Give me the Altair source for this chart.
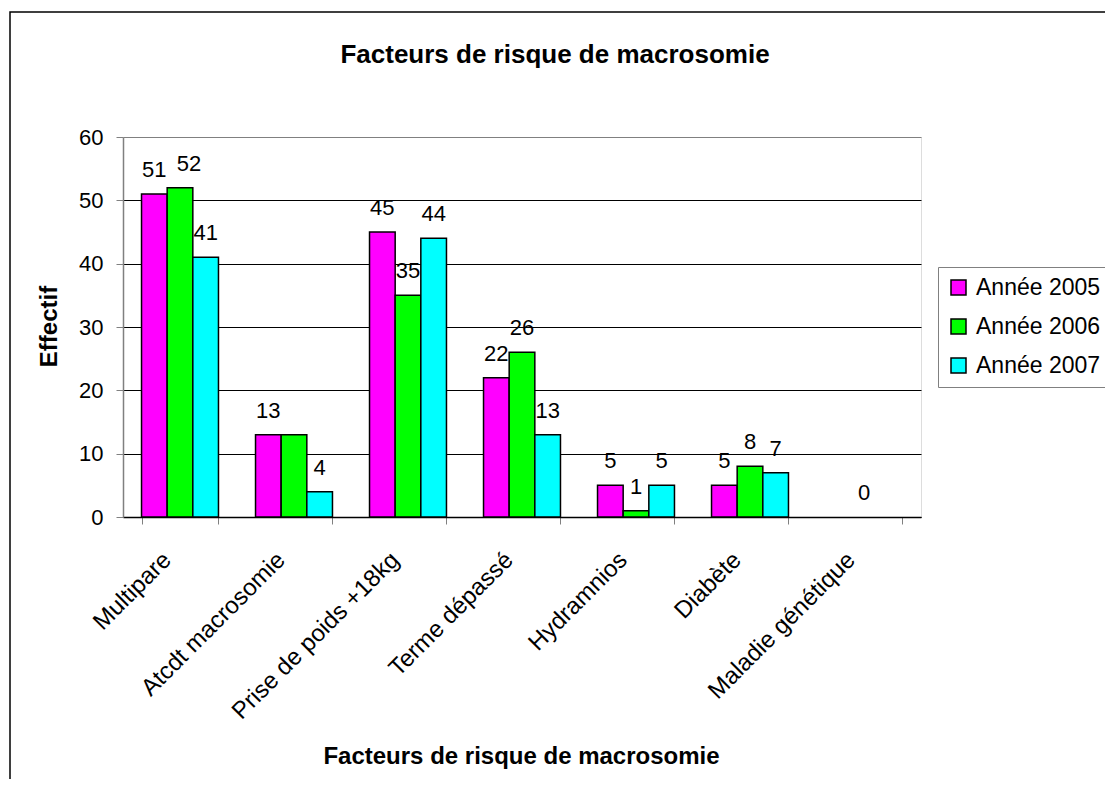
import altair as alt
import pandas as pd

categories = ["Multipare", "Atcdt macrosomie", "Prise de poids +18kg", "Terme dépassé",
              "Hydramnios", "Diabète", "Maladie génétique"]
series = ["Année 2005", "Année 2006", "Année 2007"]
annee_2005 = [51, 13, 45, 22, 5, 5, None]
annee_2006 = [52, 13, 35, 26, 1, 8, 0]
annee_2007 = [41, 4, 44, 13, 5, 7, None]
hidden_labels = [("Atcdt macrosomie", "Année 2006")]
shifted_labels = [("Multipare", "Année 2006")]
colors = ["#FF00FF", "#00FF00", "#00FFFF"]
y_ticks = [0, 10, 20, 30, 40, 50, 60]
chart_title = "Facteurs de risque de macrosomie"
x_title = "Facteurs de risque de macrosomie"
y_title = "Effectif"

rows = []
for s, vals in zip(series, [annee_2005, annee_2006, annee_2007]):
    for c, v in zip(categories, vals):
        rows.append({
            "cat": c, "serie": s, "val": v,
            "show": v is not None and (c, s) not in hidden_labels,
            "shift": (c, s) in shifted_labels,
            "label": "" if v is None else str(v),
        })
df = pd.DataFrame(rows)

FONT = "Liberation Sans"
W, H = 798, 380

x_enc = alt.X("cat:N", sort=categories,
              scale=alt.Scale(paddingInner=0.325, paddingOuter=0.1625),
              axis=alt.Axis(title=x_title, titleFont=FONT,
                            titleFontSize=24, titleFontWeight="bold", titleColor="black",
                            titleX=398, titleY=246, titleBaseline="alphabetic", titleAlign="center",
                            labelAngle=315, labelAlign="right", labelBaseline="middle",
                            labelFont=FONT, labelFontSize=24, labelColor="black",
                            labelPadding=32, labelOffset=-13, labelLimit=0,
                            tickBand="extent", tickSize=7, tickColor="#808080",
                            domainColor="black", domainWidth=1.5))
xo_enc = alt.XOffset("serie:N", sort=series, scale=alt.Scale(paddingInner=0, paddingOuter=0))
y_enc = alt.Y("val:Q", scale=alt.Scale(domain=[0, 60], nice=False),
              axis=alt.Axis(values=y_ticks, title=y_title, titleFont=FONT, titleFontSize=24,
                            titleFontWeight="bold", titleColor="black", titleX=-74, titleY=189,
                            titleAngle=270, titleAlign="center", titleBaseline="middle",
                            labelFont=FONT, labelFontSize=22, labelColor="black", labelPadding=13,
                            tickSize=7, tickColor="#808080", domainColor="#808080", domainWidth=1.5,
                            grid=True, gridWidth=1,
                            gridColor={"condition": {"test": "datum.value === 60", "value": "#808080"},
                                       "value": "black"}))

bars = alt.Chart(df).transform_filter("datum.val > 0").mark_bar(
    stroke="black", strokeWidth=1.5
).encode(
    x=x_enc, xOffset=xo_enc, y=y_enc,
    color=alt.Color("serie:N", sort=series, scale=alt.Scale(domain=series, range=colors),
                    legend=alt.Legend(title=None, orient="none", legendX=815, legendY=130,
                                      direction="vertical", symbolType="square", symbolSize=225,
                                      symbolStrokeColor="black", symbolStrokeWidth=1.5,
                                      labelFont=FONT, labelFontSize=23, labelColor="black",
                                      labelOffset=6, rowPadding=15, padding=9,
                                      strokeColor="#808080", fillColor="white")),
)

label_style = dict(font=FONT, fontSize=22, color="black", baseline="alphabetic", dy=-17)
label_enc = dict(x=alt.X("cat:N", sort=categories), xOffset=alt.XOffset("serie:N", sort=series),
                 y=alt.Y("val:Q"), text="label:N")
texts = alt.Chart(df).transform_filter("datum.show && !datum.shift").mark_text(
    **label_style).encode(**label_enc)
texts_shift = alt.Chart(df).transform_filter("datum.show && datum.shift").mark_text(
    dx=9, **label_style).encode(**label_enc)

frame = alt.Chart(alt.Data(values=[{}])).mark_rect(
    fillOpacity=0, stroke="black", strokeWidth=1.5
).encode(x=alt.value(-113), x2=alt.value(1400), y=alt.value(-125), y2=alt.value(1400))

title = alt.Chart(alt.Data(values=[{}])).mark_text(
    text=chart_title, font=FONT, fontSize=26, fontWeight="bold", color="black",
    align="center", baseline="alphabetic"
).encode(x=alt.value(432), y=alt.value(-74))

chart = alt.layer(frame, bars, texts, texts_shift, title).properties(
    width=W, height=H,
    autosize=alt.AutoSizeParams(type="none"),
    padding={"left": 115, "top": 129, "right": 184, "bottom": 262},
).configure_view(stroke="#808080", strokeWidth=1.5).configure(background="white")

chart.save("out.html", embed_options={"renderer": "svg", "actions": False})
